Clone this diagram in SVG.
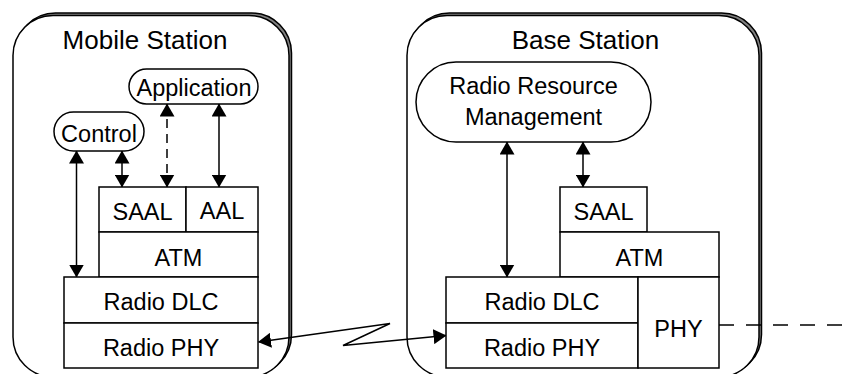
<svg xmlns="http://www.w3.org/2000/svg" width="844" height="374" viewBox="0 0 844 374">
<style>
  .t{font-family:"Liberation Sans",Arial,sans-serif;font-size:23.5px;fill:#000;text-anchor:middle}
  .title{font-size:26px}
  .box{fill:#fff;stroke:#000;stroke-width:1.5}
  .shadow{fill:#808080;stroke:#000;stroke-width:1.5}
  .ln{fill:none;stroke:#000;stroke-width:1.5}
  .dash{stroke-dasharray:9 6}
  .dash2{stroke-dasharray:15 12}
</style>
<defs>
  <marker id="ah" markerUnits="userSpaceOnUse" markerWidth="13" markerHeight="15" viewBox="0 0 13 15" refX="12.5" refY="7.5" orient="auto-start-reverse">
    <path d="M0,0 L13,7.5 L0,15 z" fill="#000"/>
  </marker>
</defs>
<rect width="844" height="374" fill="#fff"/>
<g id="mobile-station">
  <rect class="shadow" x="15.5" y="13" width="276" height="361.5" rx="40"/>
  <rect class="box" x="13" y="15.5" width="276" height="361.5" rx="40"/>
  <text class="t title" x="145" y="49">Mobile Station</text>
</g>
<g id="base-station">
  <rect class="shadow" x="409.5" y="13" width="352" height="361.5" rx="40"/>
  <rect class="box" x="407" y="15.5" width="352" height="361.5" rx="40"/>
  <text class="t title" x="585.5" y="48.5">Base Station</text>
</g>
<g id="connectors">
  <line class="ln" x1="76.5" y1="151" x2="76.5" y2="277" marker-start="url(#ah)" marker-end="url(#ah)"/>
  <line class="ln" x1="122" y1="151" x2="122" y2="187" marker-start="url(#ah)" marker-end="url(#ah)"/>
  <line class="ln dash" x1="167" y1="104" x2="167" y2="187" marker-start="url(#ah)" marker-end="url(#ah)"/>
  <line class="ln" x1="219" y1="104" x2="219" y2="187" marker-start="url(#ah)" marker-end="url(#ah)"/>
  <line class="ln" x1="507" y1="142" x2="507" y2="277" marker-start="url(#ah)" marker-end="url(#ah)"/>
  <line class="ln" x1="583" y1="142" x2="583" y2="187" marker-start="url(#ah)" marker-end="url(#ah)"/>
  <polyline class="ln" points="258.5,342 390,323.5 343,345.5 446,335.5" marker-start="url(#ah)" marker-end="url(#ah)"/>
  <line class="ln dash2" x1="719" y1="325" x2="844" y2="325"/>
</g>
<g id="control">
  <rect class="box" x="54" y="112" width="90" height="39" rx="19.5"/>
  <text class="t" x="99" y="141.5">Control</text>
</g>
<g id="application">
  <rect class="box" x="129" y="69" width="129" height="35" rx="17.5"/>
  <text class="t" x="194" y="95.5">Application</text>
</g>
<g id="ms-saal">
  <rect class="box" x="99" y="187" width="87" height="45"/>
  <text class="t" x="142.5" y="220">SAAL</text>
</g>
<g id="ms-aal">
  <rect class="box" x="186" y="187" width="72" height="45"/>
  <text class="t" x="222" y="219">AAL</text>
</g>
<g id="ms-atm">
  <rect class="box" x="99" y="232" width="159" height="45"/>
  <text class="t" x="178.5" y="266">ATM</text>
</g>
<g id="ms-radio-dlc">
  <rect class="box" x="64" y="277" width="194" height="46"/>
  <text class="t" x="161" y="310">Radio DLC</text>
</g>
<g id="ms-radio-phy">
  <rect class="box" x="64" y="323" width="194" height="45"/>
  <text class="t" x="161" y="356">Radio PHY</text>
</g>
<g id="rrm">
  <rect class="box" x="416" y="62" width="235" height="80" rx="40"/>
  <text class="t" x="533.5" y="93.5">Radio Resource</text>
  <text class="t" x="533.5" y="124.5">Management</text>
</g>
<g id="bs-saal">
  <rect class="box" x="560" y="187" width="87" height="45"/>
  <text class="t" x="603.5" y="220">SAAL</text>
</g>
<g id="bs-atm">
  <rect class="box" x="560" y="232" width="159" height="45"/>
  <text class="t" x="639.5" y="266">ATM</text>
</g>
<g id="bs-radio-dlc">
  <rect class="box" x="446" y="277" width="192" height="46"/>
  <text class="t" x="542" y="310">Radio DLC</text>
</g>
<g id="bs-radio-phy">
  <rect class="box" x="446" y="323" width="192" height="45"/>
  <text class="t" x="542" y="356">Radio PHY</text>
</g>
<g id="bs-phy">
  <rect class="box" x="638" y="277" width="81" height="91"/>
  <text class="t" x="678.5" y="336.5">PHY</text>
</g>
</svg>
